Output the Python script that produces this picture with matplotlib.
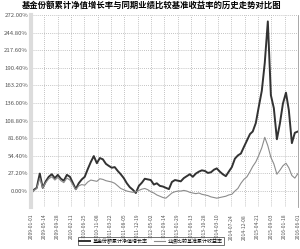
import matplotlib
matplotlib.use("Agg")
import matplotlib.pyplot as plt
import matplotlib.ticker as mticker
import pandas as pd

plt.rcParams['font.family'] = ['Noto Sans CJK SC', 'DejaVu Sans']

# 월별 기준일 (2009-01 ~ 2016-06)
start_month = "2009-01-01"

# 기금 누적 순자산가치 증가율 (%)
fund_growth = [
    -3.7, 2, 5, 27, 5, 15, 22, 26, 20, 25,
    19, 16, 25, 22, 13, 3, 12, 18, 22, 34,
    45, 54, 43, 51, 49, 42, 39, 36, 37, 31,
    26, 20, 12, 6, 2, -3, 8, 13, 19, 18,
    17, 10, 12, 8, 7, 5, 3, 14, 17, 16,
    15, 20, 23, 26, 22, 27, 30, 32, 31, 28,
    29, 33, 35, 30, 26, 23, 30, 37, 50, 55,
    58, 68, 78, 88, 92, 105, 130, 155, 198, 262,
    148, 128, 80, 104, 135, 152, 125, 74, 90, 92,
]

# 업적 비교 기준 수익률 (%)
benchmark_return = [
    -3.7, 1, 4, 20, 5, 13, 19, 22, 17, 21,
    16, 13, 20, 17, 10, 2, 8, 10, 9, 14,
    17, 16, 15, 19, 18, 16, 15, 14, 12, 8,
    4, 2, 0, -1, -2, -1, 1, 3, 4, 2,
    -1, -3, -6, -8, -10, -11, -7, -3, -1, 0,
    0, 1, 0, -2, -3, -4, -3, -5, -6, -7,
    -9, -10, -11, -10, -9, -8, -6, -5, 0, 4,
    12, 18, 22, 30, 38, 45, 55, 67, 83, 70,
    52, 42, 26, 32, 39, 43, 36, 24, 20, 27,
]

tick_dates = [
    "2009-01-01", "2009-05-14", "2009-09-28", "2010-02-11", "2010-06-25",
    "2010-11-08", "2011-03-22", "2011-08-05", "2011-12-19", "2012-05-02",
    "2012-09-14", "2013-01-29", "2013-06-13", "2013-10-28", "2014-03-10",
    "2014-07-24", "2014-12-08", "2015-04-21", "2015-09-03", "2016-01-18",
    "2016-06-01",
]

y_ticks = [0, 27.2, 54.4, 81.6, 108.8, 136.0, 163.2, 190.4, 217.6, 244.8, 272.0]

title = "基金份额累计净值增长率与同期业绩比较基准收益率的历史走势对比图"
fund_label = "基金份额累计净值增长率"
bench_label = "业绩比较基准累计收益率"

dates = pd.date_range(start_month, periods=len(fund_growth), freq="MS")
ticks = pd.to_datetime(tick_dates)

fig = plt.figure(figsize=(3.0, 2.49), dpi=100)
ax = fig.add_axes([0.103, 0.169, 0.890, 0.771])

ax.plot(dates, fund_growth, color="#333333", lw=1.4, label=fund_label)
ax.plot(dates, benchmark_return, color="#8c8c8c", lw=0.8, label=bench_label)

ax.set_xlim(ticks[0], ticks[-1])
ax.set_ylim(-24.5, 272)
ax.set_yticks(y_ticks)
ax.yaxis.set_major_formatter(mticker.FuncFormatter(lambda v, p: f"{v:.2f}%"))
ax.set_xticks(ticks)
ax.set_xticklabels(tick_dates, rotation=90, fontsize=3.6, color="#555555")
ax.tick_params(axis="y", labelsize=4.3, colors="#555555", length=0, pad=2)
ax.tick_params(axis="x", length=0, pad=5)

ax.grid(True, color="#b0b0b0", linestyle=(0, (1, 1.5)), linewidth=0.6)
ax.set_axisbelow(True)

for side in ["top", "bottom"]:
    ax.spines[side].set_visible(False)
ax.spines["left"].set_color("#dcdcdc")
ax.spines["left"].set_linewidth(3)
ax.spines["right"].set_color("#999999")
ax.spines["right"].set_linewidth(0.6)

fig.text(0.505, 0.978, title, ha="center", va="center", fontsize=6.0, fontweight="bold")

leg = fig.legend(loc="center", bbox_to_anchor=(0.503, 0.032), ncol=2, fontsize=3.6,
                 frameon=True, fancybox=False, edgecolor="#333333", handlelength=2.2,
                 columnspacing=1.2, handletextpad=0.5, borderpad=0.3)
leg.get_frame().set_linewidth(0.6)

fig.savefig("out.png", dpi=100)
